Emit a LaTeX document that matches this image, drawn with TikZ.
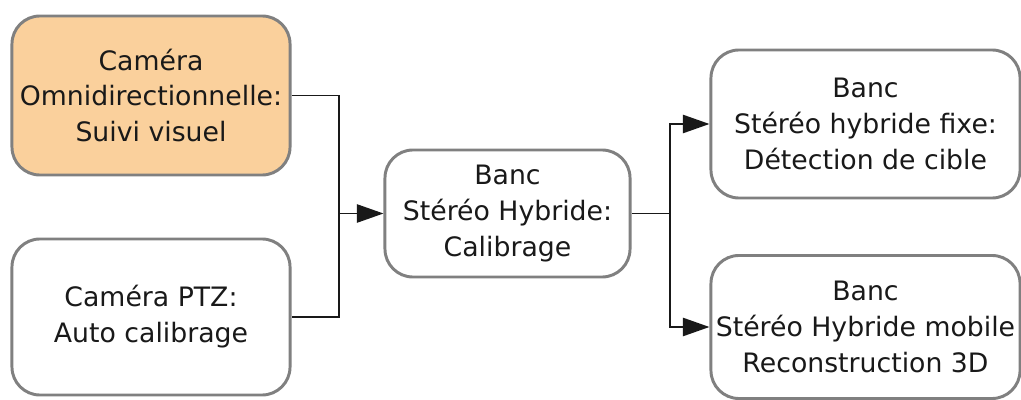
\documentclass[tikz,border=0pt]{standalone}
\usepackage{fontspec}
\setmainfont{DejaVu Sans}
\usetikzlibrary{arrows.meta}
\definecolor{boxorange}{HTML}{FAD09C}
\definecolor{boxborder}{HTML}{808080}
\tikzset{
  box/.style={draw=boxborder, line width=2.1pt, rounded corners=0.7cm, fill=white,
    align=center, inner sep=0pt, font=\fontsize{19}{25.5}\selectfont, text=black!90},
  conn/.style={draw=black!90, line width=1.4pt},
  arr/.style={conn, -{Triangle[length=19pt,width=13pt]}}
}
\begin{document}
\begin{tikzpicture}[x=0.025cm,y=-0.025cm]
\useasboundingbox (0,0) rectangle (1021,400);
\node[box, fill=boxorange, minimum width=6.95cm, minimum height=3.975cm] (b1) at (151,95.5)
  {Caméra\\Omnidirectionnelle:\\Suivi visuel};
\node[box, minimum width=6.95cm, minimum height=3.9cm] (b2) at (151,317)
  {Caméra PTZ:\\Auto calibrage};
\node[box, minimum width=6.125cm, minimum height=3.175cm] (b3) at (507.5,213.5)
  {Banc\\Stéréo Hybride:\\Calibrage};
\node[box, minimum width=7.725cm, minimum height=3.7cm] (b4) at (865.5,124)
  {Banc\\Stéréo hybride fixe:\\Détection de cible};
\node[box, minimum width=7.725cm, minimum height=3.575cm] (b5) at (865.5,327)
  {Banc\\Stéréo Hybride mobile\\Reconstruction 3D};
\coordinate (jl) at (339,213.5);
\coordinate (jr) at (670,213.5);
\draw[conn] (b1.east) -| (jl |- b2.east) -- (b2.east);
\draw[arr] (jl) -- (b3.west);
\draw[conn] (b3.east) -- (jr);
\draw[arr] (jr) |- (b4.west);
\draw[arr] (jr) |- (b5.west);
\end{tikzpicture}
\end{document}
